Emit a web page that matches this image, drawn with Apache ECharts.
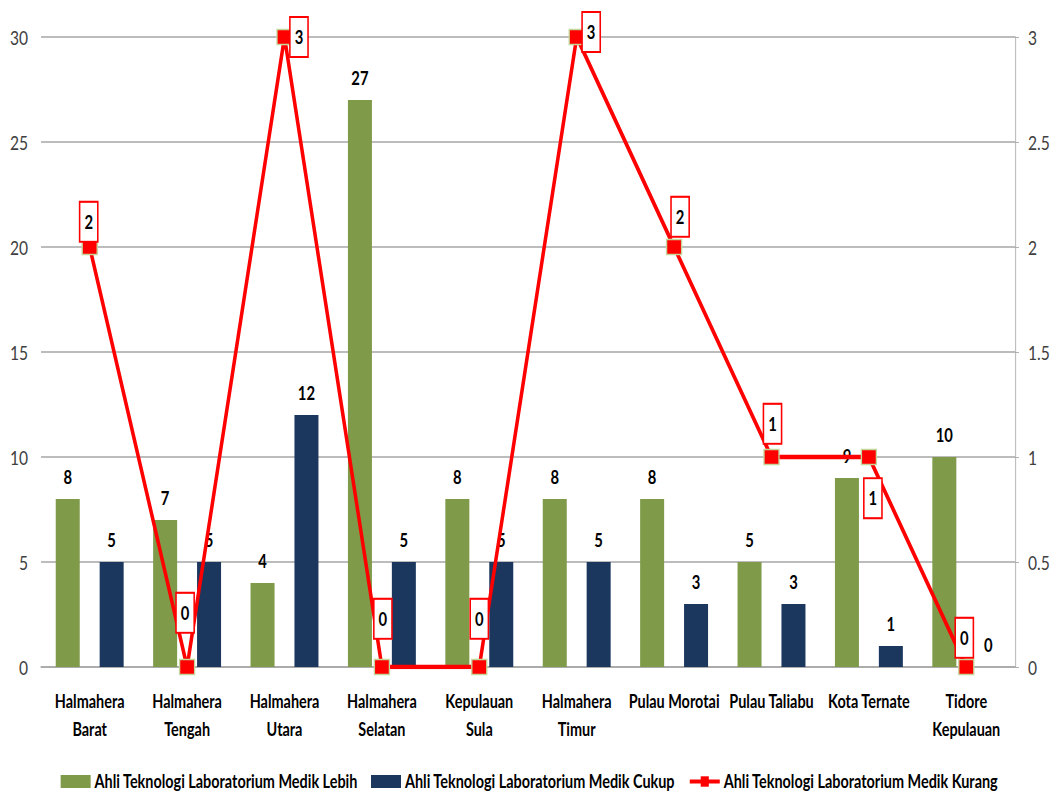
<!DOCTYPE html>
<html>
<head>
<meta charset="utf-8">
<script src="https://cdn.jsdelivr.net/npm/echarts@6/dist/echarts.min.js"></script>
<style>
html,body{margin:0;padding:0;background:#fff;overflow:hidden;}
#wrap{width:1059px;height:795px;overflow:hidden;position:relative;}
#chart{height:795px;transform-origin:0 0;position:absolute;left:0;top:0;}
</style>
</head>
<body>
<div id="wrap"><div id="chart"></div></div>
<script>
var categories = ['Halmahera\nBarat','Halmahera\nTengah','Halmahera\nUtara','Halmahera\nSelatan','Kepulauan\nSula','Halmahera\nTimur','Pulau Morotai','Pulau Taliabu','Kota Ternate','Tidore\nKepulauan'];
var seriesNames = ['Ahli Teknologi Laboratorium Medik Lebih','Ahli Teknologi Laboratorium Medik Cukup','Ahli Teknologi Laboratorium Medik Kurang'];
var lebih = [8,7,4,27,8,8,8,5,9,10];
var cukup = [5,5,12,5,5,5,3,3,1,0];
var kurang = [2,0,3,0,0,3,2,1,1,0];
var leftTicks = [0,5,10,15,20,25,30];
var rightTicks = [0,0.5,1,1.5,2,2.5,3];

// horizontal compression of the whole drawing (narrow text look)
var S = 0.78;
var W = 1059 / S;
var el = document.getElementById('chart');
el.style.width = W + 'px';
el.style.transform = 'scaleX(' + S + ')';

// label placement styles for the line series (style only, not data)
var kurangLabelStyle = [
  {position:'top', distance:-2, dx:-1, dy:0},
  {position:'top', distance:27, dx:-2, dy:0},
  {position:'right', distance:-2, dx:0, dy:0},
  {position:'top', distance:21, dx:1, dy:0},
  {position:'top', distance:21, dx:0, dy:0},
  {position:'right', distance:-2, dx:0, dy:-5},
  {position:'top', distance:3, dx:6, dy:0},
  {position:'top', distance:6, dx:1, dy:0},
  {position:'bottom', distance:14, dx:4, dy:0},
  {position:'top', distance:2, dx:-2, dy:0}
];

var FONT = "Lato,'Liberation Sans',sans-serif";

var chart = echarts.init(el, null, {renderer:'svg', width:W, height:795});

var barLabel = {show:true, position:'top', distance:13, color:'#000', fontWeight:'bold', fontSize:19, fontFamily:FONT};

var option = {
  animation:false,
  backgroundColor:'#fff',
  textStyle:{fontFamily:FONT},
  grid:{left:41 / S, right:44 / S, top:37, bottom:128, containLabel:false},
  legend:{
    top:767, left:'center', itemWidth:30 / S, itemHeight:13, itemGap:13 / S,
    textStyle:{fontFamily:FONT, fontSize:18.5, fontWeight:'bold', color:'#000'},
    data:[
      {name:seriesNames[0], icon:'rect'},
      {name:seriesNames[1], icon:'rect'},
      {name:seriesNames[2], lineStyle:{width:4, color:'#ff0000'}, itemStyle:{color:'#ff0000', borderColor:'#ff0000', borderWidth:0}}
    ]
  },
  xAxis:{
    type:'category', data:categories, boundaryGap:true,
    axisLine:{show:true, lineStyle:{color:'#a6a6a6', width:1.5}},
    axisTick:{show:false},
    axisLabel:{interval:0, margin:20, lineHeight:28, color:'#000', fontWeight:'bold', fontSize:18.5, fontFamily:FONT}
  },
  yAxis:[
    {
      type:'value', min:leftTicks[0], max:leftTicks[leftTicks.length-1], interval:leftTicks[1]-leftTicks[0],
      axisLine:{show:false}, axisTick:{show:false},
      axisLabel:{margin:13 / S, color:'#404040', fontSize:20, fontFamily:FONT},
      splitLine:{show:true, lineStyle:{color:'#a6a6a6', width:1.5}}
    },
    {
      type:'value', min:rightTicks[0], max:rightTicks[rightTicks.length-1], interval:rightTicks[1]-rightTicks[0],
      position:'right',
      axisLine:{show:true, lineStyle:{color:'#bfbfbf', width:1.5}},
      axisTick:{show:true, length:4 / S, lineStyle:{color:'#a6a6a6'}},
      axisLabel:{margin:13 / S, color:'#404040', fontSize:20, fontFamily:FONT},
      splitLine:{show:false}
    }
  ],
  series:[
    {
      name:seriesNames[0], type:'bar', yAxisIndex:0, data:lebih,
      barWidth:24 / S, barGap:'83%',
      itemStyle:{color:'#7f9a48'},
      label:barLabel
    },
    {
      name:seriesNames[1], type:'bar', yAxisIndex:0, data:cukup,
      barWidth:24 / S, barGap:'83%',
      itemStyle:{color:'#1b375e'},
      label:barLabel
    },
    {
      name:seriesNames[2], type:'line', yAxisIndex:1, z:10,
      data:kurang.map(function(v,i){
        var s = kurangLabelStyle[i];
        var d = s.position === 'right' ? s.distance / S : s.distance;
        return {value:v, label:{position:s.position, distance:d, offset:[s.dx / S, s.dy]}};
      }),
      symbol:'rect', symbolSize:[15 / S, 15],
      lineStyle:{color:'#ff0000', width:4.5},
      itemStyle:{color:'#ff0000', borderColor:'#c4d79b', borderWidth:1.5},
      label:{
        show:true, color:'#000', fontWeight:'bold', fontSize:19, fontFamily:FONT,
        backgroundColor:'#fff', borderColor:'#ff0000', borderWidth:2,
        padding:[10,4 / S,10,4 / S], lineHeight:18
      }
    }
  ]
};
chart.setOption(option);
</script>
</body>
</html>
